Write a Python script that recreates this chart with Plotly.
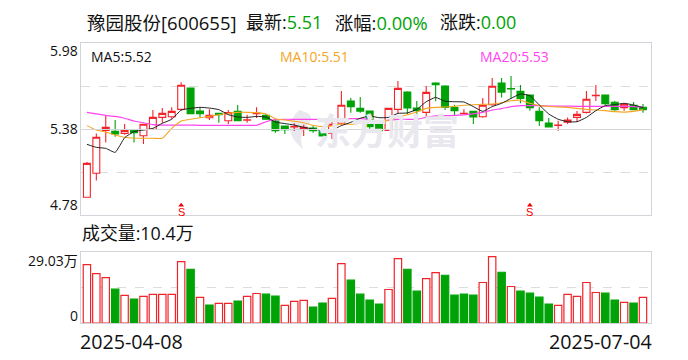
import plotly.graph_objects as go

stock_name = "豫园股份[600655]"
latest = "5.51"
change_pct = "0.00%"
change_amt = "0.00"
volume_now = "10.4万"
ma5_now = "5.52"
ma10_now = "5.51"
ma20_now = "5.53"
date_first = "2025-04-08"
date_last = "2025-07-04"
price_ticks = ["5.98", "5.38", "4.78"]
vol_ticks = ["29.03万", "0"]

opens = [4.909,5.076,5.374,5.367,5.353,5.374,5.337,5.381,5.464,5.469,5.520,5.668,5.508,5.462,5.492,5.441,5.506,5.445,5.490,5.478,
         5.439,5.404,5.398,5.381,5.390,5.370,5.353,5.423,5.578,5.527,5.508,5.418,5.374,5.520,5.640,5.529,5.499,5.703,5.682,5.532,
         5.490,5.506,5.469,5.552,5.703,5.664,5.645,5.620,5.506,5.425,5.409,5.430,5.464,5.499,5.615,5.620,5.569,5.532,5.548,5.534]
closes = [5.145,5.326,5.395,5.349,5.374,5.358,5.416,5.464,5.492,5.506,5.687,5.490,5.490,5.478,5.483,5.497,5.441,5.447,5.492,5.451,
          5.372,5.379,5.400,5.395,5.372,5.335,5.416,5.548,5.539,5.508,5.400,5.372,5.527,5.666,5.529,5.511,5.638,5.691,5.534,5.511,
          5.492,5.467,5.548,5.680,5.640,5.662,5.596,5.532,5.441,5.397,5.411,5.446,5.485,5.590,5.617,5.559,5.518,5.555,5.518,5.518]
highs = [5.154,5.353,5.478,5.446,5.418,5.374,5.416,5.515,5.529,5.534,5.708,5.668,5.534,5.520,5.497,5.515,5.550,5.483,5.534,5.488,
         5.446,5.404,5.423,5.413,5.404,5.395,5.439,5.647,5.599,5.606,5.508,5.446,5.532,5.717,5.645,5.578,5.682,5.708,5.687,5.552,
         5.520,5.506,5.599,5.738,5.738,5.751,5.689,5.620,5.534,5.460,5.441,5.464,5.508,5.647,5.689,5.620,5.578,5.562,5.571,5.557]
lows = [4.909,5.025,5.289,5.330,5.344,5.289,5.279,5.376,5.427,5.455,5.511,5.490,5.464,5.446,5.427,5.418,5.437,5.427,5.460,5.446,
        5.358,5.349,5.369,5.335,5.358,5.335,5.314,5.413,5.497,5.497,5.381,5.358,5.372,5.488,5.488,5.488,5.464,5.576,5.515,5.481,
        5.488,5.418,5.462,5.545,5.603,5.594,5.562,5.511,5.404,5.397,5.372,5.418,5.432,5.492,5.578,5.550,5.511,5.511,5.515,5.497]
ma5 = [5.277,5.256,5.249,5.221,5.323,5.365,5.376,5.388,5.423,5.451,5.515,5.527,5.534,5.529,5.518,5.483,5.467,5.464,5.471,5.467,
       5.432,5.421,5.411,5.395,5.383,5.374,5.376,5.407,5.430,5.458,5.474,5.462,5.464,5.492,5.495,5.520,5.573,5.603,5.576,5.573,
       5.571,5.539,5.506,5.539,5.562,5.596,5.627,5.615,5.550,5.488,5.451,5.434,5.434,5.464,5.511,5.546,5.552,5.562,5.550,5.532]
ma10 = [5.407,5.376,5.363,5.342,5.326,5.319,5.319,5.319,5.319,5.388,5.439,5.451,5.462,5.471,5.483,5.492,5.499,5.499,5.497,5.488,
        5.455,5.446,5.437,5.427,5.409,5.400,5.404,5.418,5.416,5.423,5.425,5.427,5.446,5.464,5.483,5.501,5.527,5.534,5.536,5.541,
        5.548,5.552,5.555,5.557,5.566,5.580,5.583,5.562,5.546,5.541,5.536,5.534,5.527,5.520,5.515,5.511,5.504,5.501,5.506,5.518]
ma20 = [5.499,5.488,5.478,5.471,5.458,5.439,5.427,5.414,5.411,5.411,5.411,5.411,5.409,5.409,5.409,5.409,5.409,5.409,5.409,5.434,
        5.448,5.451,5.451,5.451,5.451,5.451,5.451,5.451,5.455,5.455,5.448,5.439,5.444,5.451,5.451,5.451,5.464,5.474,5.476,5.478,
        5.481,5.488,5.499,5.515,5.525,5.539,5.546,5.546,5.546,5.543,5.543,5.543,5.541,5.541,5.541,5.541,5.541,5.541,5.539,5.536]
volumes = [23.87,20.21,18.58,13.84,11.26,9.77,10.85,11.67,11.67,11.67,25.10,21.98,10.45,7.33,8.0,8.0,8.95,10.85,12.07,11.80,
           10.99,7.19,8.82,9.22,6.51,8.14,10.04,24.28,17.5,11.8,9.36,7.73,13.7,26.32,21.98,13.02,18.18,20.62,19.53,11.39,
           11.8,11.39,16.55,27.13,20.75,14.92,13.02,12.21,10.58,7.73,7.19,11.67,10.85,16.55,12.48,12.21,9.36,8.41,8.14,10.45]
vol_up = [1,1,1,0,1,0,1,1,1,1,1,0,1,0,1,1,0,1,1,0,
          0,1,1,1,0,0,1,1,0,0,0,0,1,1,0,0,1,1,0,0,
          0,0,1,1,0,1,0,0,0,0,1,1,1,1,1,0,0,1,0,1]
signal_days = [10, 47]
signal_arrow_price = [4.853, 4.853]

RED, GREEN = "#f3232a", "#00a307"
FONT = "Open Sans, Noto Sans CJK SC, sans-serif"
days = list(range(len(closes)))
W, H = 688, 360
L, R = 80.5, 651
P_TOP, P_BOT = 43, 215
V_TOP, V_BOT = 252, 323
X_RANGE = [-0.68, 59.85]

fig = go.Figure()
fig.add_trace(go.Candlestick(
    x=days, open=opens, high=highs, low=lows, close=closes, whiskerwidth=0,
    increasing=dict(line=dict(color=RED, width=1.1), fillcolor="white"),
    decreasing=dict(line=dict(color=GREEN, width=1.1), fillcolor=GREEN),
    xaxis="x", yaxis="y", hoverinfo="skip"))
for vals, col, wid in [(ma20, "#ff44ee", 1.2), (ma10, "#f5a623", 1.1), (ma5, "#222222", 1.0)]:
    fig.add_trace(go.Scatter(x=days, y=vals, mode="lines",
                             line=dict(color=col, width=wid, shape="spline", smoothing=0.4),
                             xaxis="x", yaxis="y", hoverinfo="skip"))
fig.add_trace(go.Scatter(x=signal_days, y=signal_arrow_price, mode="markers",
                         marker=dict(symbol="triangle-up", size=5, color="#f00000"),
                         xaxis="x", yaxis="y", hoverinfo="skip"))
fig.add_trace(go.Bar(
    x=days, y=volumes, width=0.78,
    marker=dict(color=["white" if u else GREEN for u in vol_up],
                line=dict(color=[RED if u else GREEN for u in vol_up], width=1.2)),
    xaxis="x2", yaxis="y2", hoverinfo="skip"))

def ann(text, x, y, size, color="#111111", anchor="left"):
    fig.add_annotation(text=text, x=x / W, y=1 - y / H, xref="paper", yref="paper",
                       showarrow=False, xanchor=anchor, yanchor="middle",
                       font=dict(family=FONT, size=size, color=color),
                       borderpad=0, borderwidth=0)

ann(stock_name, 87, 22, 18.5)
ann(f'最新:<span style="color:{GREEN}">{latest}</span>', 246, 22, 18)
ann(f'涨幅:<span style="color:{GREEN}">{change_pct}</span>', 335, 22, 18.3)
ann(f'涨跌:<span style="color:{GREEN}">{change_amt}</span>', 440, 22, 18)
ann(f"MA5:{ma5_now}", 91, 56, 14)
ann(f"MA10:{ma10_now}", 280, 56, 14, "#f5a623")
ann(f"MA20:{ma20_now}", 480, 56, 14, "#ff44ee")
ann(price_ticks[0], 78, 51, 14, anchor="right")
ann(price_ticks[1], 78, 128, 14, anchor="right")
ann(price_ticks[2], 78, 204, 14, anchor="right")
ann(f"成交量:{volume_now}", 82, 233, 17.9)
ann(vol_ticks[0], 78, 260, 14, anchor="right")
ann(vol_ticks[1], 78, 315, 14, anchor="right")
ann(date_first, 80, 341, 19.7)
ann(date_last, 652, 341, 19.7, anchor="right")

fig.add_annotation(text="东方财富", x=387 / W, y=1 - 129 / H, xref="paper", yref="paper",
                   showarrow=False, font=dict(family="Noto Sans CJK SC", size=36, color="#e8e8ee", weight="bold"))
for d in signal_days:
    fig.add_annotation(text="S", x=d, y=1 - 211.5 / H, xref="x", yref="paper", showarrow=False,
                       font=dict(family="Liberation Sans", size=11, color="#f00000"))

def px(x, y):
    return f"{x / W:.4f},{1 - y / H:.4f}"
fig.add_shape(type="path", xref="paper", yref="paper", layer="below", line_width=0, fillcolor="#e8e8ee",
              path=f"M {px(299,110)} Q {px(279,130)} {px(303,149)} Q {px(297,133)} {px(310,122)} Q {px(315,114)} {px(299,110)} Z")
fig.add_shape(type="line", xref="paper", yref="y", x0=L / W, x1=R / W, y0=5.38, y1=5.38,
              layer="above", line=dict(color="#d6d6da", width=1))

axis_common = dict(showline=True, mirror=True, linecolor="#d3d3da", linewidth=1.3, zeroline=False,
                   ticks="", showticklabels=False)
fig.update_layout(
    width=W, height=H, margin=dict(l=0, r=0, t=0, b=0, pad=0),
    paper_bgcolor="white", plot_bgcolor="white", showlegend=False, dragmode=False, barmode="overlay",
    boxgap=0.27, boxgroupgap=0, bargap=0.14, hovermode=False,
    xaxis=dict(domain=[L / W, R / W], range=X_RANGE, rangeslider=dict(visible=False), showgrid=False,
               anchor="y", **axis_common),
    xaxis2=dict(domain=[L / W, R / W], range=X_RANGE, showgrid=False, anchor="y2", **axis_common),
    yaxis=dict(domain=[1 - P_BOT / H, 1 - P_TOP / H], range=[4.786, 5.981], anchor="x",
               tickvals=[5.68, 5.08], showgrid=True, gridcolor="#dddddd", griddash="dash", gridwidth=1, **axis_common),
    yaxis2=dict(domain=[1 - V_BOT / H, 1 - V_TOP / H], range=[0, 29.03], anchor="x2",
                tickvals=[14.5], showgrid=True, gridcolor="#dddddd", griddash="dash", gridwidth=1, **axis_common),
)
fig.write_html("out.html", config=dict(displayModeBar=False),
               post_script="document.body.style.margin='0';document.body.style.background='white';")
